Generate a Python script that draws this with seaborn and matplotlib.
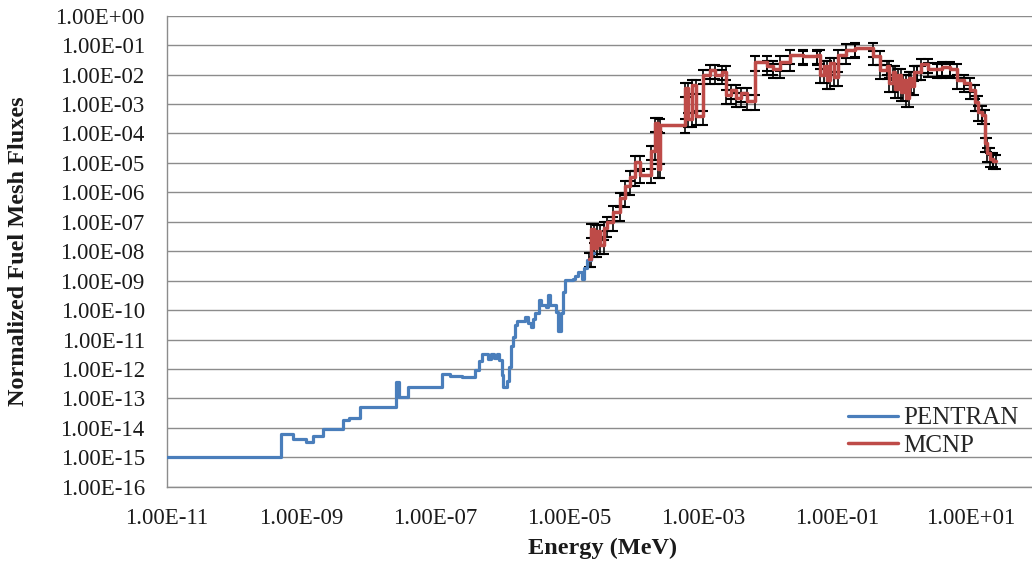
import matplotlib
matplotlib.use("Agg")
import matplotlib.pyplot as plt
from matplotlib.ticker import FixedLocator, FuncFormatter, NullFormatter
import numpy as np
import pandas as pd
import seaborn as sns

# PENTRAN deterministic fluxes: group edges (MeV) and group-wise normalized flux
pentran_edges = [1e-11, 5.0e-10, 7.6e-10, 1.17e-9, 1.5e-9, 2.1e-9, 4.2e-9, 5.2e-9,
                 7.6e-9, 2.6e-8, 2.95e-8, 4.0e-8, 1.26e-7, 1.66e-7, 2.5e-7, 4.0e-7,
                 4.6e-7, 5.1e-7, 6.2e-7, 6.8e-7, 7.6e-7, 8.3e-7, 9.1e-7, 1.0e-6,
                 1.05e-6, 1.2e-6, 1.26e-6, 1.35e-6, 1.45e-6, 1.55e-6, 1.7e-6, 2.0e-6,
                 2.24e-6, 2.45e-6, 2.7e-6, 2.95e-6, 3.1e-6, 3.55e-6, 3.8e-6, 4.5e-6,
                 4.8e-6, 5.2e-6, 6.3e-6, 6.9e-6, 7.6e-6, 8.1e-6, 8.7e-6, 1.15e-5,
                 1.23e-5, 1.38e-5, 1.55e-5, 1.66e-5, 1.86e-5, 2.14e-5, 2.4e-5]
pentran_flux = [1.0e-15, 6.0e-15, 4.2e-15, 3.2e-15, 5.4e-15, 9.1e-15, 1.8e-14, 2.1e-14,
                5.1e-14, 3.5e-13, 1.1e-13, 2.5e-13, 6.8e-13, 5.9e-13, 5.2e-13, 9.3e-13,
                1.8e-12, 3.2e-12, 2.1e-12, 3.2e-12, 2.4e-12, 3.2e-12, 2.0e-12, 6.2e-13,
                2.5e-13, 4.0e-13, 1.2e-12, 5.8e-12, 1.26e-11, 3.1e-11, 4.1e-11, 4.4e-11,
                6.0e-11, 3.5e-11, 2.75e-11, 5.0e-11, 7.8e-11, 2.2e-10, 1.5e-10, 1.26e-10,
                3.2e-10, 1.5e-10, 8.9e-11, 2.0e-11, 8.0e-11, 4.0e-10, 1.05e-9, 1.1e-9,
                1.4e-9, 2.0e-9, 1.1e-9, 2.6e-9, 5.0e-9, 8.5e-9]

# MCNP tally bins (MeV) and normalized flux
mcnp_edges = [2.0e-5, 2.1e-5, 2.35e-5, 2.6e-5, 2.95e-5, 3.3e-5, 3.7e-5, 4.6e-5,
              5.75e-5, 6.9e-5, 8.1e-5, 9.8e-5, 1.15e-4, 1.7e-4, 1.9e-4, 2.14e-4,
              2.3e-4, 5.4e-4, 6.0e-4, 6.8e-4, 7.9e-4, 1.0e-3, 1.26e-3, 1.5e-3,
              1.9e-3, 2.24e-3, 2.6e-3, 3.16e-3, 3.7e-3, 4.5e-3, 6.0e-3, 8.9e-3,
              1.12e-2, 1.4e-2, 2.0e-2, 3.16e-2, 5.0e-2, 5.6e-2, 6.3e-2, 7.1e-2,
              7.9e-2, 8.9e-2, 1.05e-1, 1.38e-1, 1.86e-1, 3.5e-1, 4.4e-1, 5.5e-1,
              6.0e-1, 6.8e-1, 7.4e-1, 8.1e-1, 8.9e-1, 9.8e-1, 1.07, 1.17,
              1.29, 1.41, 1.55, 1.82, 2.3, 3.1, 3.7, 4.9,
              6.2, 7.8, 9.8, 11.5, 12.9, 14.5, 16.2, 17.4,
              19.0, 21.4, 24.0]
mcnp_flux = [5.6e-9, 5.6e-8, 1.26e-8, 5.0e-8, 1.6e-8, 6.3e-8, 1.0e-7, 2.2e-7,
             6.3e-7, 1.6e-6, 3.4e-6, 1.1e-5, 4.0e-6, 2.5e-5, 2.2e-4, 6.3e-6,
             2.0e-4, 3.5e-3, 3.2e-4, 4.5e-3, 4.0e-4, 9.5e-3, 1.4e-2, 9.5e-3,
             1.26e-2, 2.0e-3, 3.0e-3, 1.55e-3, 2.3e-3, 1.3e-3, 2.75e-2, 1.95e-2,
             1.5e-2, 2.75e-2, 4.6e-2, 4.3e-2, 4.5e-2, 1.0e-2, 2.0e-2, 6.3e-3,
             2.5e-2, 8.0e-3, 4.6e-2, 7.1e-2, 7.8e-2, 4.3e-2, 1.4e-2, 2.0e-2,
             5.0e-3, 1.26e-2, 3.2e-3, 1.0e-2, 2.5e-3, 6.3e-3, 1.6e-3, 7.9e-3,
             4.0e-3, 1.26e-2, 1.26e-2, 2.2e-2, 1.6e-2, 1.5e-2, 1.8e-2, 1.5e-2,
             6.5e-3, 5.0e-3, 3.0e-3, 1.2e-3, 5.5e-4, 4.2e-4, 4.6e-5, 2.1e-5,
             1.4e-5, 1.2e-5]
mcnp_rel_err = 0.5  # relative statistical uncertainty shown on MCNP points

x_major = [1e-11, 1e-9, 1e-7, 1e-5, 1e-3, 1e-1, 1e1]
y_major = [10.0 ** p for p in range(-16, 1)]

BLUE = "#4a7ebb"
RED = "#be4b48"
GRID = "#8c8c8c"


def step_frame(edges, flux):
    # close the last group so the step reaches its upper edge
    return pd.DataFrame({"E": list(edges), "phi": list(flux) + [flux[-1]]})


pent_df = step_frame(pentran_edges, pentran_flux)
mcnp_df = step_frame(mcnp_edges, mcnp_flux)

# error bars sit on both ends of every MCNP bin
err_x = np.ravel(np.column_stack([mcnp_edges[:-1], mcnp_edges[1:]]))
err_y = np.repeat(mcnp_flux, 2)

sns.set_theme(style="white")
plt.rcParams["font.family"] = ["Liberation Serif", "DejaVu Serif"]

fig = plt.figure(figsize=(10.32, 5.71), dpi=100)
ax = fig.add_axes([167 / 1032, 84.3 / 571, 871 / 1032, 471 / 571])

sns.lineplot(data=pent_df, x="E", y="phi", drawstyle="steps-post", color=BLUE,
             linewidth=2.3, label="PENTRAN", ax=ax, zorder=3, sort=False)
ax.errorbar(err_x, err_y, yerr=[err_y * mcnp_rel_err, err_y * mcnp_rel_err],
            fmt="none", ecolor="black", elinewidth=1.2, capsize=3.6, capthick=1.5,
            zorder=2)
sns.lineplot(data=mcnp_df, x="E", y="phi", drawstyle="steps-post", color=RED,
             linewidth=2.5, label="MCNP", ax=ax, zorder=4, sort=False)

ax.set_xscale("log")
ax.set_yscale("log")
ax.set_xlim(1e-11, 1e2)
ax.set_ylim(1e-16, 1e0)

ax.xaxis.set_major_locator(FixedLocator(x_major))
ax.xaxis.set_minor_locator(FixedLocator(
    [k * m * 10 for m in x_major for k in range(1, 10) if k * m * 10 < 1e2]))
ax.yaxis.set_major_locator(FixedLocator(y_major))
ax.yaxis.set_minor_locator(FixedLocator(
    [k * m for m in y_major[:-1] for k in range(2, 10)]))
fmt = FuncFormatter(lambda v, pos: f"{v:.2E}")
ax.xaxis.set_major_formatter(fmt)
ax.yaxis.set_major_formatter(fmt)
ax.xaxis.set_minor_formatter(NullFormatter())
ax.yaxis.set_minor_formatter(NullFormatter())

ax.yaxis.grid(True, which="major", color=GRID, linewidth=1.0)
ax.xaxis.grid(False)
ax.set_axisbelow(True)

for side in ("top", "right"):
    ax.spines[side].set_visible(False)
for side in ("left", "bottom"):
    ax.spines[side].set_color(GRID)
    ax.spines[side].set_linewidth(1.0)

ax.tick_params(axis="y", which="major", direction="out", length=5, width=1,
               color=GRID, pad=11, labelsize=16.5, labelcolor="#1a1a1a")
ax.tick_params(axis="y", which="minor", direction="in", length=3, width=0.8,
               color=GRID)
ax.tick_params(axis="x", which="major", direction="inout", length=9, width=1,
               color=GRID, pad=11, labelsize=16.5, labelcolor="#1a1a1a")
ax.tick_params(axis="x", which="minor", direction="in", length=4, width=0.8,
               color=GRID)

ax.set_xlabel("Energy (MeV)", fontsize=17.5, fontweight="bold", color="#1a1a1a")
ax.xaxis.set_label_coords(0.5, -(548 - 486.7) / 471)
ax.xaxis.label.set_va("center")
ax.set_ylabel("Normalized Fuel Mesh Fluxes", fontsize=17.5, fontweight="bold",
              color="#1a1a1a")
ax.yaxis.set_label_coords((18.5 - 167) / 871, 0.5)
ax.yaxis.label.set_va("center")

ax.legend(loc="upper left", bbox_to_anchor=(848 / 1032, 1 - 407 / 571),
          bbox_transform=fig.transFigure, frameon=False, fontsize=18,
          handlelength=2.0, handletextpad=0.2, labelspacing=0.2,
          borderpad=0, borderaxespad=0)

fig.savefig("out.png", dpi=100)
